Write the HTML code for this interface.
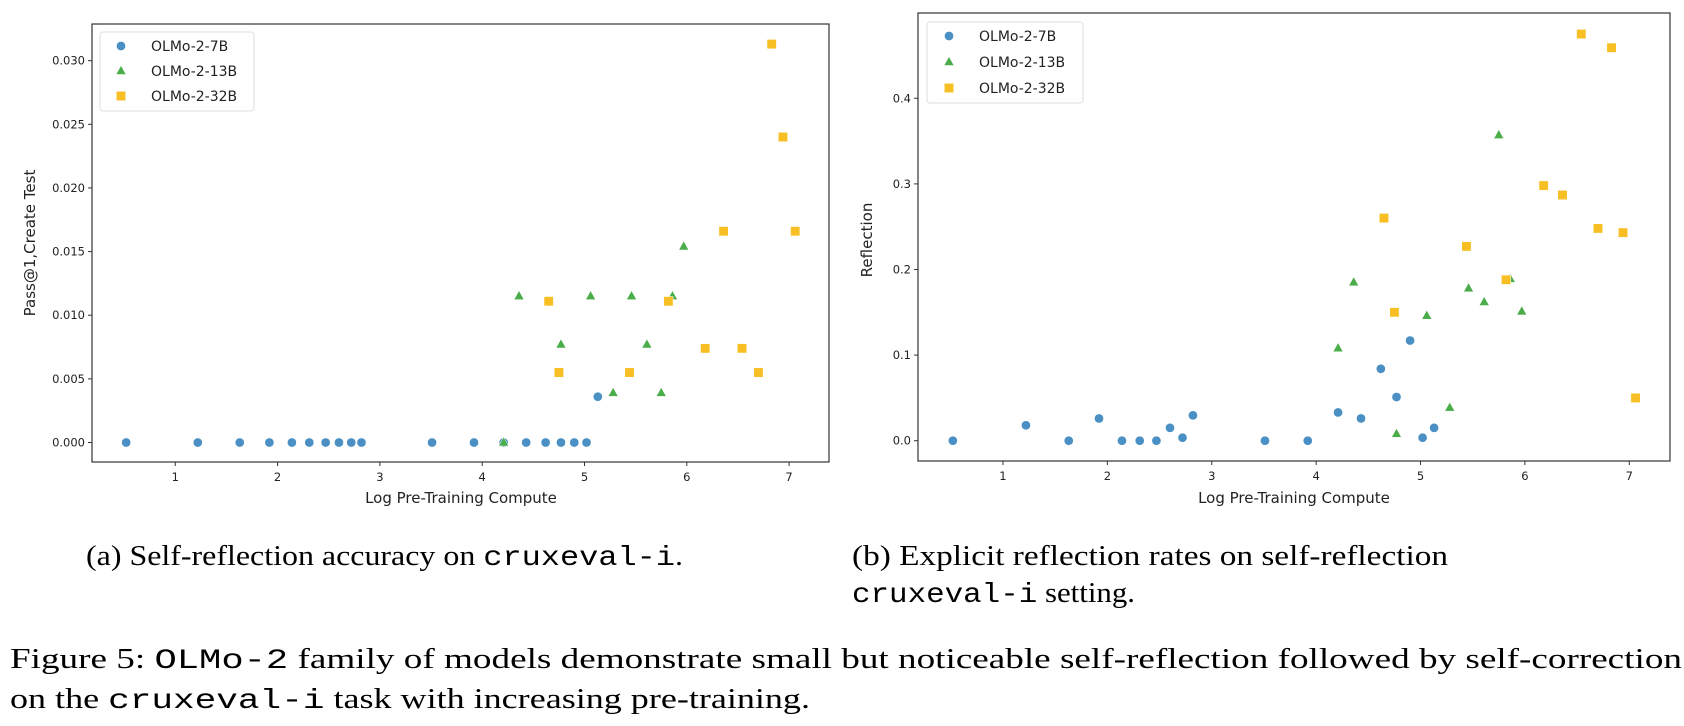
<!DOCTYPE html>
<html><head><meta charset="utf-8"><style>
html,body{margin:0;padding:0;background:#fff;}
svg{display:block;}
.tick{font-family:"DejaVu Sans","Liberation Sans",sans-serif;font-size:11.5px;fill:#222;}
.axl{font-family:"DejaVu Sans","Liberation Sans",sans-serif;font-size:15px;fill:#222;}
.leg{font-family:"DejaVu Sans","Liberation Sans",sans-serif;font-size:14px;fill:#222;}
.cap{font-family:"Liberation Serif",serif;font-size:28px;fill:#000;}
.mono{font-family:"Liberation Mono",monospace;}
</style></head><body>
<svg id="fig" width="1684" height="726" viewBox="0 0 1684 726" xmlns="http://www.w3.org/2000/svg">
<g id="chartA"></g>
<g id="chartB"></g>
<text class="cap" x="86" y="565" textLength="597" lengthAdjust="spacingAndGlyphs">(a) Self-reflection accuracy on <tspan class="mono">cruxeval-i</tspan>.</text>
<text class="cap" x="852" y="565" textLength="596" lengthAdjust="spacingAndGlyphs">(b) Explicit reflection rates on self-reflection</text>
<text class="cap" x="852" y="602" textLength="283" lengthAdjust="spacingAndGlyphs"><tspan class="mono">cruxeval-i</tspan> setting.</text>
<text class="cap" x="10" y="668" textLength="1672" lengthAdjust="spacingAndGlyphs">Figure 5: <tspan class="mono">OLMo-2</tspan> family of models demonstrate small but noticeable self-reflection followed by self-correction</text>
<text class="cap" x="10" y="708" textLength="800" lengthAdjust="spacingAndGlyphs">on the <tspan class="mono">cruxeval-i</tspan> task with increasing pre-training.</text>
</svg>
<script>
// ---- data ----
const xs7B = [0.52,1.22,1.63,1.92,2.14,2.31,2.47,2.6,2.72,2.82,3.51,3.92,4.21,4.43,4.62,4.77,4.9,5.02,5.13];
const passA7B = [0,0,0,0,0,0,0,0,0,0,0,0,0,0,0,0,0,0,0.0036];
const reflB7B = [0,0.018,0,0.026,0,0,0,0.015,0.0035,0.0296,0,0,0.033,0.026,0.084,0.051,0.117,0.0035,0.015];
const xs13B = [4.21,4.36,4.77,5.06,5.28,5.46,5.61,5.75,5.86,5.97];
const passA13B = [0,0.0115,0.0077,0.0115,0.0039,0.0115,0.0077,0.0039,0.0115,0.0154];
const reflB13B = [0.108,0.185,0.008,0.146,0.0386,0.178,0.162,0.357,0.189,0.151];
const xs32B = [4.65,4.75,5.44,5.82,6.18,6.36,6.54,6.7,6.83,6.94,7.06];
const passA32B = [0.0111,0.0055,0.0055,0.0111,0.0074,0.0166,0.0074,0.0055,0.0313,0.024,0.0166];
const reflB32B = [0.26,0.15,0.227,0.188,0.298,0.287,0.475,0.248,0.459,0.243,0.05];
const xTicks = [1,2,3,4,5,6,7];
const yTicksA = [0,0.005,0.01,0.015,0.02,0.025,0.03];
const yTickLabelsA = ["0.000","0.005","0.010","0.015","0.020","0.025","0.030"];
const yTicksB = [0,0.1,0.2,0.3,0.4];
const yTickLabelsB = ["0.0","0.1","0.2","0.3","0.4"];
const seriesNames = ["OLMo-2-7B","OLMo-2-13B","OLMo-2-32B"];

const NS="http://www.w3.org/2000/svg";
const COLORS=["#4a90c4","#4aad4a","#f8bf24"];
function mk(tag,attrs,parent){const e=document.createElementNS(NS,tag);for(const k in attrs)e.setAttribute(k,attrs[k]);parent.appendChild(e);return e;}
function marker(kind,cx,cy,parent,color){
  let e;
  if(kind===0){e=mk('circle',{cx:cx,cy:cy,r:4.6,fill:color,stroke:'#fff','stroke-width':0.5},parent);}
  else if(kind===1){e=mk('polygon',{points:`${cx},${cy-5.5} ${cx+5},${cy+3.5} ${cx-5},${cy+3.5}`,fill:color,stroke:'#fff','stroke-width':0.5},parent);}
  else {e=mk('rect',{x:cx-4.7,y:cy-4.7,width:9.4,height:9.4,fill:color,stroke:'#fff','stroke-width':0.5},parent);}
  return e;
}
function drawChart(g,cfg){
  const {L,R,T,B,xmin,xmax,ymin,ymax}=cfg;
  const sx=v=>L+(v-xmin)/(xmax-xmin)*(R-L);
  const sy=v=>B-(v-ymin)/(ymax-ymin)*(B-T);
  const frame=mk('rect',{x:L,y:T,width:R-L,height:B-T,fill:'none',stroke:'#333','stroke-width':1.2},g);
  
  
  xTicks.forEach(t=>{
    const x=sx(t);
    const ln=mk('line',{x1:x,y1:B,x2:x,y2:B+4,stroke:'#333'},g);
    
    
    const tx=mk('text',{x:x,y:B+19,'text-anchor':'middle',class:'tick'},g);tx.textContent=String(t);
    
    
  });
  cfg.yt.forEach((t,i)=>{
    const y=sy(t);
    const ln=mk('line',{x1:L-4,y1:y,x2:L,y2:y,stroke:'#333'},g);
    
    
    const tx=mk('text',{x:L-7,y:y+4,'text-anchor':'end',class:'tick'},g);tx.textContent=cfg.ytl[i];
    
    
  });
  const xl=mk('text',{x:cfg.xlx,y:503,'text-anchor':'middle',class:'axl'},g);xl.textContent='Log Pre-Training Compute';
  
  
  const yl=mk('text',{x:0,y:0,'text-anchor':'middle',class:'axl',transform:`translate(${cfg.ylx},${cfg.yly}) rotate(-90)`},g);yl.textContent=cfg.ylabel;
  
  
  cfg.series.forEach((s,k)=>{
    s.x.forEach((xv,i)=>{
      const m=marker(k,sx(xv),sy(s.y[i]),g,COLORS[k]);
      
      
    });
  });
  const lg=cfg.leg;
  const box=mk('rect',{x:lg.x,y:lg.y,width:lg.w,height:lg.h,rx:3,fill:'#fff','fill-opacity':0.85,stroke:'#ddd'},g);
  
  
  seriesNames.forEach((n,k)=>{
    const cy=lg.rows[k];
    const m=marker(k,lg.mx,cy,g,COLORS[k]);
    
    
    const t=mk('text',{x:lg.tx,y:cy+5,class:'leg'},g);t.textContent=n;
    
    
  });
}
drawChart(document.getElementById('chartA'),{
  L:92,R:829,T:24,B:462,xmin:0.186,xmax:7.39,ymin:-0.00153,ymax:0.03288,
  yt:yTicksA,ytl:yTickLabelsA,xlx:461,ylx:35,yly:243,ylabel:'Pass@1,Create Test',
  series:[{x:xs7B,y:passA7B},{x:xs13B,y:passA13B},{x:xs32B,y:passA32B}],
  leg:{x:100,y:32,w:154,h:79,mx:121,tx:151,rows:[46,71,96]}
});
drawChart(document.getElementById('chartB'),{
  L:918,R:1670,T:13,B:461,xmin:0.186,xmax:7.39,ymin:-0.0237,ymax:0.4996,
  yt:yTicksB,ytl:yTickLabelsB,xlx:1294,ylx:872,yly:240,ylabel:'Reflection',
  series:[{x:xs7B,y:reflB7B},{x:xs13B,y:reflB13B},{x:xs32B,y:reflB32B}],
  leg:{x:927,y:22,w:156,h:81,mx:949,tx:979,rows:[36,62,88]}
});
</script>
</body></html>
